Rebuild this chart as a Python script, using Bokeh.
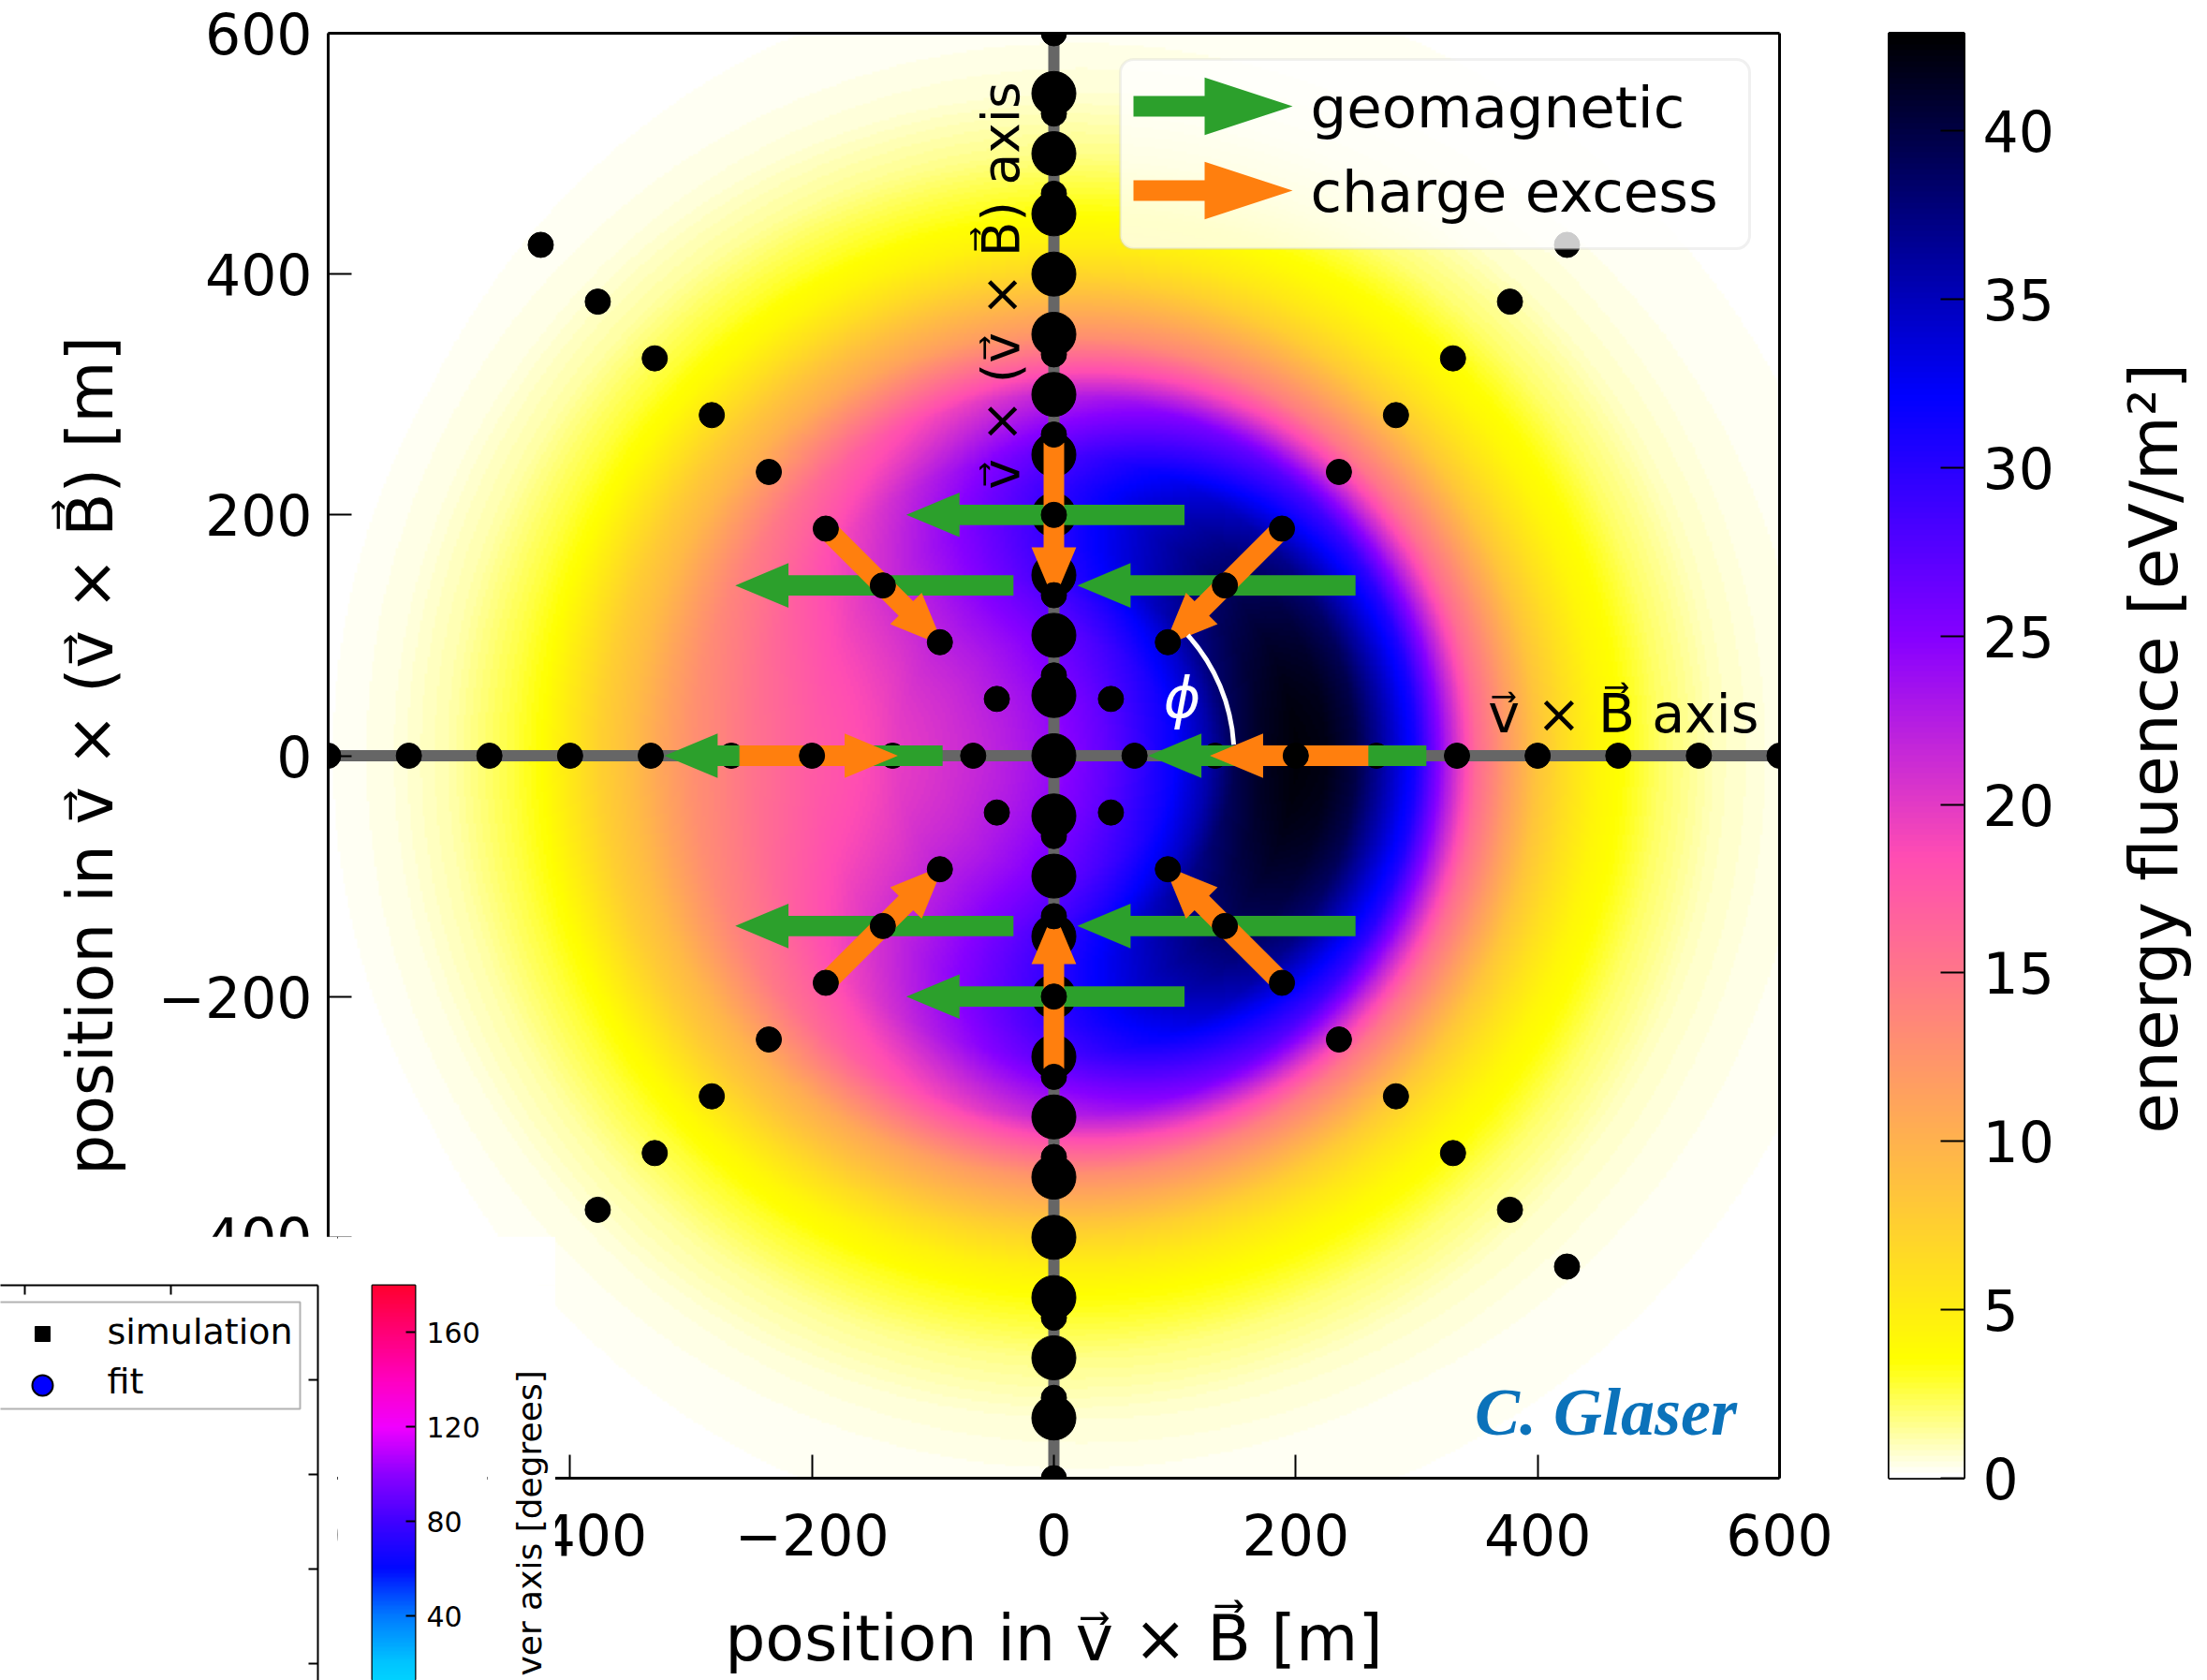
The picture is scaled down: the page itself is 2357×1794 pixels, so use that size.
import numpy as np
from bokeh.plotting import figure
from bokeh.models import (Range1d, LinearColorMapper, LinearAxis, FixedTicker,
                          BoxAnnotation, Label, PolyAnnotation)
from bokeh.layouts import row, column
from bokeh.embed import file_html
from bokeh.resources import INLINE

# ---------------- values ----------------
# radial energy-fluence profiles [eV/m^2] along +v x B (phi = 0) and -v x B (phi = 180 deg)
profile_r = [0, 50, 100, 130, 150, 175, 200, 225, 250, 275, 300, 325, 350,
             375, 400, 425, 450, 500, 550, 600, 700, 900]
fluence_pos_vxb = [24, 27.5, 32, 36, 39.5, 41.5, 42.5, 42, 40, 35.5, 31, 23,
                   16, 12, 8.5, 6.2, 4.3, 2.2, 0.9, 0.4, 0.1, 0]
fluence_neg_vxb = [24, 22, 20.5, 19.8, 18.8, 18.0, 17.3, 16.3, 15.3, 14, 12.8,
                   11, 9, 7.5, 5.5, 3.5, 2.6, 1.2, 0.45, 0.15, 0.03, 0]
fluence_max = 42.9

# star-shaped antenna layout
station_radii = [66.7, 133.3, 200.0, 266.7, 333.3, 400.0, 466.7, 533.3, 600.0]
station_arms_deg = [0, 45, 90, 135, 180, 225, 270, 315]
vvxb_stations = [-550, -500, -450, -400, -350, -300, -250, -200, -150, -100, -50, 0,
                 50, 100, 150, 200, 250, 300, 350, 400, 450, 500, 550]
arrow_station_radius = 200.0

x_ticks = [-600, -400, -200, 0, 200, 400, 600]
x_tick_labels = ["\u2212600", "\u2212400", "\u2212200", "0", "200", "400", "600"]
y_ticks = [-600, -400, -200, 0, 200, 400, 600]
y_tick_labels = ["\u2212600", "\u2212400", "\u2212200", "0", "200", "400", "600"]
cbar_ticks = [0, 5, 10, 15, 20, 25, 30, 35, 40]
cbar_tick_labels = ["0", "5", "10", "15", "20", "25", "30", "35", "40"]
cbar_title = "energy fluence [eV/m\u00b2]"
legend_labels = ["geomagnetic", "charge excess"]

# overlapping fragment of another figure (lower left corner)
inset_legend_labels = ["simulation", "fit"]
inset_cbar_ticks = [40, 80, 120, 160]
inset_cbar_tick_labels = ["40", "80", "120", "160"]
inset_cbar_range = [12.7, 180]
inset_color_deg = [0, 20, 40, 60, 80, 100, 120, 140, 160, 180]
inset_colors = ["#00e8ff", "#00c4ff", "#0078ff", "#0008ff", "#4000ff",
                "#8c00ff", "#f000ff", "#ff00c0", "#ff0078", "#ff0030"]
inset_top_ticks = [26, 182]
inset_right_ticks = [18, 119, 220, 321]

FONT = "DejaVu Sans"
GREEN = "#2ca02c"
ORANGE = "#ff7f0e"
H = 1794


# ---------------- colormap (gnuplot2 reversed) ----------------
def gnuplot2_r(n=256):
    cols = []
    for i in range(n):
        x = 1.0 - i / (n - 1)
        r = min(max(x / 0.32 - 0.78125, 0), 1)
        g = min(max(2 * x - 0.84, 0), 1)
        if x < 0.25:
            b = 4 * x
        elif x < 0.42:
            b = 1.0
        elif x < 0.92:
            b = -2 * x + 1.84
        else:
            b = x / 0.08 - 11.5
        b = min(max(b, 0), 1)
        cols.append("#%02x%02x%02x" % (round(r * 255), round(g * 255), round(b * 255)))
    return cols


mapper = LinearColorMapper(palette=gnuplot2_r(), low=0, high=fluence_max)

# ---------------- fluence field from the two profiles ----------------
n = 600
grid = np.linspace(-600, 600, n)
X, Y = np.meshgrid(grid, grid)
R = np.hypot(X, Y)
cphi = np.where(R > 0, X / np.maximum(R, 1e-9), 0.0)
sp = np.sqrt(np.interp(R, profile_r, fluence_pos_vxb))
sn = np.sqrt(np.interp(R, profile_r, fluence_neg_vxb))
a_geo = (sp + sn) / 2
b_ce = (sp - sn) / 2
F = a_geo ** 2 + b_ce ** 2 + 2 * a_geo * b_ce * cphi

# ---------------- main figure ----------------
TOP = 35
p = figure(width=1960, height=H, x_range=Range1d(-600, 600), y_range=Range1d(-600, 600),
           output_backend="svg", toolbar_location=None,
           min_border_left=350, min_border_right=60, min_border_top=TOP, min_border_bottom=216)
p.grid.visible = False
p.outline_line_color = None
p.background_fill_color = "white"
p.border_fill_color = "white"

xa = p.below[0]
ya = p.left[0]
for ax, ticks, labels in ((xa, x_ticks, x_tick_labels), (ya, y_ticks, y_tick_labels)):
    ax.ticker = FixedTicker(ticks=ticks)
    ax.major_label_overrides = {t: l for t, l in zip(ticks, labels)}
    ax.major_label_text_font = FONT
    ax.major_label_text_font_size = "60px"
    ax.major_label_text_color = "black"
    ax.major_tick_in = 25
    ax.major_tick_out = 0
    ax.major_tick_line_width = 2
    ax.minor_tick_line_color = None
    ax.axis_line_width = 3
    ax.axis_label_text_font = FONT
    ax.axis_label_text_font_size = "68px"
    ax.axis_label_text_font_style = "normal"
    ax.axis_label_text_color = "black"
xa.axis_label = "position in v\u20d7 \u00d7 B\u20d7 [m]"
xa.major_label_standoff = 37
xa.axis_label_standoff = 46
ya.axis_label = "position in v\u20d7 \u00d7 (v\u20d7 \u00d7 B\u20d7) [m]"
ya.major_label_standoff = 17
ya.axis_label_standoff = 30

for side in ("above", "right"):
    ax = LinearAxis(ticker=FixedTicker(ticks=[]), axis_line_width=3,
                    major_tick_line_color=None, minor_tick_line_color=None,
                    major_tick_out=0, major_tick_in=0, major_label_standoff=0,
                    axis_label_standoff=0, major_label_text_font_size="0px")
    p.add_layout(ax, side)

p.image(image=[F], x=-600, y=-600, dw=1200, dh=1200, color_mapper=mapper)

# axes of the star pattern
rmax = station_radii[-1]
p.segment(x0=[-rmax, 0], y0=[0, -rmax], x1=[rmax, 0], y1=[0, rmax],
          line_color="#666666", line_width=12)

# station positions
under_x, under_y, over_x, over_y = [0.0], [0.0], [], []
arrow_pts = []
for ang in station_arms_deg:
    t = np.deg2rad(ang)
    for r in station_radii:
        sx, sy = r * np.cos(t), r * np.sin(t)
        if abs(sy) < 1e-6 and abs(r - arrow_station_radius) > 1:
            under_x.append(sx); under_y.append(sy)
        else:
            over_x.append(sx); over_y.append(sy)
        if abs(r - arrow_station_radius) < 1:
            arrow_pts.append((sx, sy))

p.scatter(under_x, under_y, size=27, color="black")
p.scatter([0] * len(vvxb_stations), vvxb_stations, size=47, color="black")


def arrow_poly(x0, y0, x1, y1, w, hw, hl):
    dx_, dy_ = x1 - x0, y1 - y0
    L = np.hypot(dx_, dy_)
    ux, uy = dx_ / L, dy_ / L
    nx, ny = -uy, ux
    bx, by = x1 - ux * hl, y1 - uy * hl
    xs = [x0 + nx * w / 2, bx + nx * w / 2, bx + nx * hw / 2, x1,
          bx - nx * hw / 2, bx - nx * w / 2, x0 - nx * w / 2]
    ys = [y0 + ny * w / 2, by + ny * w / 2, by + ny * hw / 2, y1,
          by - ny * hw / 2, by - ny * w / 2, y0 - ny * w / 2]
    return xs, ys


SHAFT, HEAD_W, HEAD_L = 17.0, 37.0, 44.0
gxs, gys, oxs, oys = [], [], [], []
for (sx, sy) in arrow_pts:
    gx, gy = arrow_poly(sx + 108, sy, sx - 122, sy, SHAFT, HEAD_W, HEAD_L)
    gxs.append(gx); gys.append(gy)
    rr = np.hypot(sx, sy)
    ux, uy = sx / rr, sy / rr
    ox, oy = arrow_poly(sx + ux * 60, sy + uy * 60, sx - ux * 71, sy - uy * 71,
                        SHAFT, HEAD_W, HEAD_L)
    oxs.append(ox); oys.append(oy)
p.patches(xs=gxs, ys=gys, fill_color=GREEN, line_color=None)
p.patches(xs=oxs, ys=oys, fill_color=ORANGE, line_color=None)

p.scatter(over_x, over_y, size=27, color="black")

# phi angle arc
p.arc(x=0, y=0, radius=149, start_angle=np.deg2rad(3.5), end_angle=np.deg2rad(42),
      line_color="white", line_width=5)
p.add_layout(Label(x=106, y=48, text="\u03d5", text_color="white", text_font=FONT,
                   text_font_size="60px", text_font_style="italic",
                   text_align="center", text_baseline="middle"))

p.add_layout(Label(x=359, y=35, text="v\u20d7 \u00d7 B\u20d7 axis", text_font=FONT,
                   text_font_size="57px", text_color="black",
                   text_align="left", text_baseline="alphabetic"))
p.add_layout(Label(x=-44, y=221, text="v\u20d7 \u00d7 (v\u20d7 \u00d7 B\u20d7) axis",
                   text_font=FONT, text_font_size="55px", text_color="black",
                   angle=np.pi / 2, text_align="left", text_baseline="alphabetic"))
p.add_layout(Label(x=348, y=-545, text="C. Glaser", text_font="Liberation Serif",
                   text_font_size="72px", text_font_style="bold italic",
                   text_color="#0b72ba", text_align="left", text_baseline="alphabetic"))

# pixel -> data helpers for the frame
FX0, FW, FY0, FH = 350.0, 1550.0, float(TOP), H - TOP - 216.0


def dx(px):
    return (px - FX0) / FW * 1200 - 600


def dy(py):
    return 600 - (py - FY0) / FH * 1200


# legend
p.add_layout(BoxAnnotation(left=dx(1196), right=dx(1868), top=dy(63), bottom=dy(265),
                           fill_color="white", fill_alpha=0.8, line_color="#cccccc",
                           line_width=3, border_radius=14))
for i, (lab, col) in enumerate(zip(legend_labels, [GREEN, ORANGE])):
    yc = [113, 203][i]
    lx, ly = arrow_poly(dx(1210), dy(yc), dx(1380), dy(yc),
                        22 / 1.2917, 62 / 1.2917, 94 / 1.2917)
    p.add_layout(PolyAnnotation(xs=lx, ys=ly, fill_color=col, fill_alpha=1.0,
                                line_color=None))
    p.add_layout(Label(x=dx(1399), y=dy(yc + 1), text=lab, text_font=FONT,
                       text_font_size="61px", text_color="black",
                       text_align="left", text_baseline="alphabetic"))

# ---------------- colorbar figure ----------------
cb = figure(width=263, height=H, x_range=Range1d(0, 1), y_range=Range1d(0, fluence_max),
            output_backend="svg", toolbar_location=None, x_axis_location=None,
            y_axis_location="right", min_border_left=57, min_border_right=126,
            min_border_top=30, min_border_bottom=216)
cb.grid.visible = False
cb.border_fill_color = "white"
cb.image(image=[np.linspace(0, fluence_max, 512).reshape(-1, 1)], x=0, y=0, dw=1,
         dh=fluence_max, color_mapper=mapper)
cb.outline_line_color = "black"
cb.outline_line_width = 3
cax = cb.right[0]
cax.ticker = FixedTicker(ticks=cbar_ticks)
cax.major_label_overrides = {t: l for t, l in zip(cbar_ticks, cbar_tick_labels)}
cax.major_label_text_font = FONT
cax.major_label_text_font_size = "60px"
cax.major_label_text_color = "black"
cax.major_tick_in = 25
cax.major_tick_out = 0
cax.major_tick_line_width = 2
cax.minor_tick_line_color = None
cax.axis_line_color = None
cax.major_label_standoff = 20

# colorbar title in its own narrow panel (x 2223..2357)
LW = 2357 - 1960 - 263
ct = figure(width=LW, height=H, x_range=Range1d(0, LW), y_range=Range1d(0, H),
            output_backend="svg", toolbar_location=None, x_axis_location=None,
            y_axis_location=None, min_border_left=0, min_border_right=0,
            min_border_top=0, min_border_bottom=0)
ct.grid.visible = False
ct.outline_line_color = None
ct.border_fill_color = "white"
ct.background_fill_color = "white"
ct.add_layout(Label(x=2300 - (1960 + 263), y=H - 808 - 80, text=cbar_title, text_font=FONT,
                    text_font_size="71px", text_color="black", angle=np.pi / 2,
                    text_align="center", text_baseline="middle"))

# ---------------- fragment of another figure, overlapping lower left ----------------
INH = 474
# axes box with legend
f1 = figure(width=360, height=INH, x_range=Range1d(0, 339), y_range=Range1d(0, INH - 52),
            output_backend="svg", toolbar_location=None, x_axis_location="above",
            y_axis_location="right", min_border_left=0, min_border_right=21,
            min_border_top=52, min_border_bottom=0)
f1.grid.visible = False
f1.outline_line_color = None
f1.border_fill_color = "white"
for ax, ticks in ((f1.above[0], inset_top_ticks), (f1.right[0], inset_right_ticks)):
    ax.ticker = FixedTicker(ticks=ticks)
    ax.major_label_overrides = {t: "" for t in ticks}
    ax.major_label_text_font_size = "1px"
    ax.major_label_standoff = 0
    ax.major_tick_in = 10
    ax.major_tick_out = 0
    ax.major_tick_line_width = 2
    ax.minor_tick_line_color = None
    ax.axis_line_width = 2
f1.add_layout(BoxAnnotation(left=-20, right=320, top=INH - 70, bottom=INH - 184,
                            fill_color="white", fill_alpha=1.0, line_color="black",
                            line_width=2, level="underlay"))
f1.scatter([45], [INH - 104], marker="square", size=16, color="black")
f1.scatter([45], [INH - 159], marker="circle", size=22, fill_color="blue",
           line_color="black", line_width=2)
for lab, base in zip(inset_legend_labels, (101, 154)):
    f1.add_layout(Label(x=114, y=INH - base, text=lab, text_font=FONT,
                        text_font_size="38px", text_color="black",
                        text_align="left", text_baseline="alphabetic"))


def hex2rgb(h):
    return [int(h[1:3], 16), int(h[3:5], 16), int(h[5:7], 16)]


stops = np.array([hex2rgb(c) for c in inset_colors], float)
inset_palette = []
for v in np.linspace(0, 180, 256):
    rgb = [int(round(np.interp(v, inset_color_deg, stops[:, k]))) for k in range(3)]
    inset_palette.append("#%02x%02x%02x" % tuple(rgb))
inset_mapper = LinearColorMapper(palette=inset_palette, low=0, high=180)

f2 = figure(width=160, height=INH, x_range=Range1d(0, 1),
            y_range=Range1d(inset_cbar_range[0], inset_cbar_range[1]),
            output_backend="svg", toolbar_location=None, x_axis_location=None,
            y_axis_location="right", min_border_left=37, min_border_right=77,
            min_border_top=52, min_border_bottom=0)
f2.grid.visible = False
f2.border_fill_color = "white"
f2.image(image=[np.linspace(0, 180, 361).reshape(-1, 1)], x=0, y=0, dw=1, dh=180,
         color_mapper=inset_mapper)
f2.outline_line_color = "black"
f2.outline_line_width = 2
iax = f2.right[0]
iax.ticker = FixedTicker(ticks=inset_cbar_ticks)
iax.major_label_overrides = {t: l for t, l in zip(inset_cbar_ticks, inset_cbar_tick_labels)}
iax.major_label_text_font = FONT
iax.major_label_text_font_size = "30px"
iax.major_label_text_color = "black"
iax.major_tick_in = 10
iax.major_tick_out = 0
iax.major_tick_line_width = 2
iax.minor_tick_line_color = None
iax.axis_line_color = None
iax.major_label_standoff = 12

f3 = figure(width=73, height=INH, x_range=Range1d(0, 73), y_range=Range1d(0, INH),
            output_backend="svg", toolbar_location=None, x_axis_location=None,
            y_axis_location=None, min_border_left=0, min_border_right=0,
            min_border_top=0, min_border_bottom=0)
f3.grid.visible = False
f3.outline_line_color = None
f3.border_fill_color = "white"
f3.add_layout(Label(x=45, y=INH - 102, text="ver axis [degrees]", text_font=FONT,
                    text_font_size="36px", text_color="black", angle=np.pi / 2,
                    text_align="right", text_baseline="middle"))

inset = row(f1, f2, f3, margin=(-INH, 0, 0, 0))
layout = column(row(p, cb, ct), inset)
open("out.html", "w").write(file_html(layout, INLINE))
